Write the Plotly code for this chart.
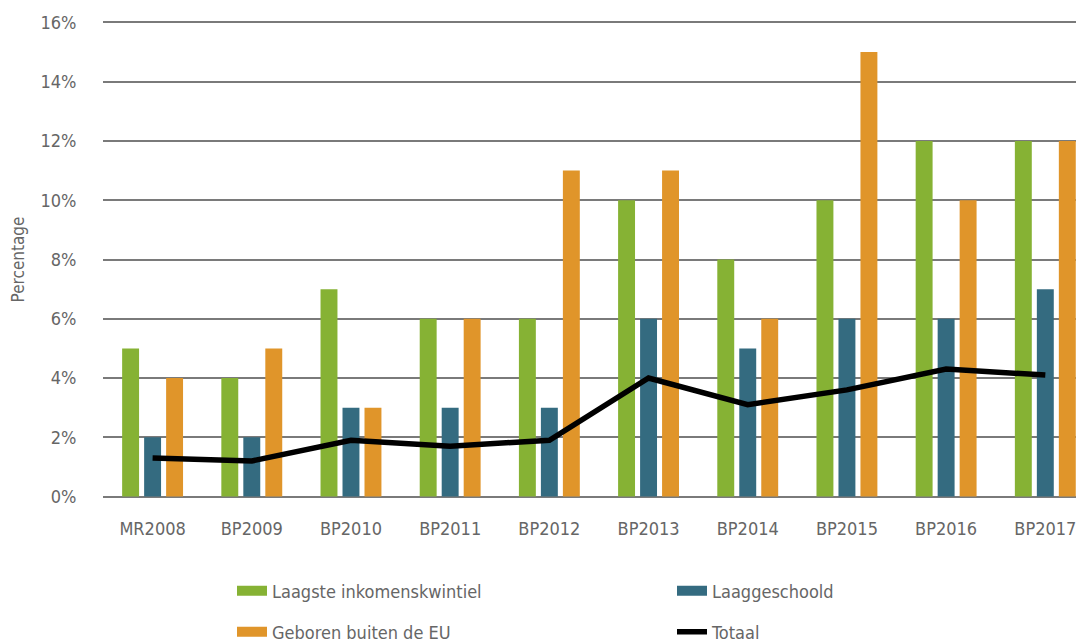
import plotly.graph_objects as go

categories = ["MR2008", "BP2009", "BP2010", "BP2011", "BP2012",
              "BP2013", "BP2014", "BP2015", "BP2016", "BP2017"]
laagste_inkomen = [5, 4, 7, 6, 6, 10, 8, 10, 12, 12]
laaggeschoold = [2, 2, 3, 3, 3, 6, 5, 6, 6, 7]
buiten_eu = [4, 5, 3, 6, 11, 11, 6, 15, 10, 12]
totaal = [1.3, 1.2, 1.9, 1.7, 1.9, 4.0, 3.1, 3.6, 4.3, 4.1]
y_ticks = [0, 2, 4, 6, 8, 10, 12, 14, 16]

GREEN = "#86B234"
TEAL = "#346B80"
ORANGE = "#E0952A"
TEXT = "#666666"
FONT = "Liberation Sans Narrow, DejaVu Sans Condensed, Roboto, sans-serif"

W, H = 1076, 634

fig = go.Figure()
for name, vals, col in [("Laagste inkomenskwintiel", laagste_inkomen, GREEN),
                        ("Laaggeschoold", laaggeschoold, TEAL),
                        ("Geboren buiten de EU", buiten_eu, ORANGE)]:
    fig.add_trace(go.Bar(x=categories, y=vals, name=name, marker_color=col,
                         marker_line_width=0, showlegend=False))

fig.add_trace(go.Scatter(x=categories, y=totaal, name="Totaal", mode="lines",
                         line=dict(color="black", width=5.5), showlegend=False))

# legend entries
legend_items = [("Laagste inkomenskwintiel", GREEN, 12, "legend"),
                ("Laaggeschoold", TEAL, 12, "legend"),
                ("Geboren buiten de EU", ORANGE, 12, "legend2"),
                ("Totaal", "black", 5.5, "legend2")]
for name, col, w, lg in legend_items:
    fig.add_trace(go.Scatter(x=[None], y=[None], name=name, mode="lines",
                             line=dict(color=col, width=w), legend=lg,
                             showlegend=True, hoverinfo="skip"))

n = len(categories)
fig.update_layout(
    width=W, height=H,
    margin=dict(l=95, r=0, t=12.5, b=143.5, autoexpand=False),
    paper_bgcolor="white", plot_bgcolor="white",
    font=dict(family=FONT, color=TEXT, size=18),
    barmode="group", bargap=0.335, bargroupgap=0.23,
    xaxis=dict(range=[-0.5, n - 0.61], showgrid=False, showline=False,
               zeroline=False, ticks="outside", ticklen=14, automargin=False,
               tickcolor="rgba(0,0,0,0)", tickfont=dict(size=18, color=TEXT)),
    yaxis=dict(range=[-0.05, 16.05], tickvals=y_ticks,
               ticktext=[f"{v}%" for v in y_ticks], automargin=False,
               showgrid=True, gridcolor="#7a7a7a", gridwidth=1.5,
               zeroline=False, showline=False,
               ticks="outside", ticklen=22, tickcolor="rgba(0,0,0,0)",
               tickfont=dict(size=18, color=TEXT),
               title=dict(text="Percentage", standoff=14,
                          font=dict(size=17, color=TEXT))),
    legend=dict(orientation="h", xref="container", yref="container",
                x=224 / W, y=1 - 583 / H, xanchor="left", yanchor="middle",
                entrywidth=395, entrywidthmode="pixels",
                font=dict(size=18, color=TEXT), bgcolor="rgba(0,0,0,0)"),
    legend2=dict(orientation="h", xref="container", yref="container",
                 x=224 / W, y=1 - 624 / H, xanchor="left", yanchor="middle",
                 entrywidth=395, entrywidthmode="pixels",
                 font=dict(size=18, color=TEXT), bgcolor="rgba(0,0,0,0)"),
)

fig.write_html("out.html")
